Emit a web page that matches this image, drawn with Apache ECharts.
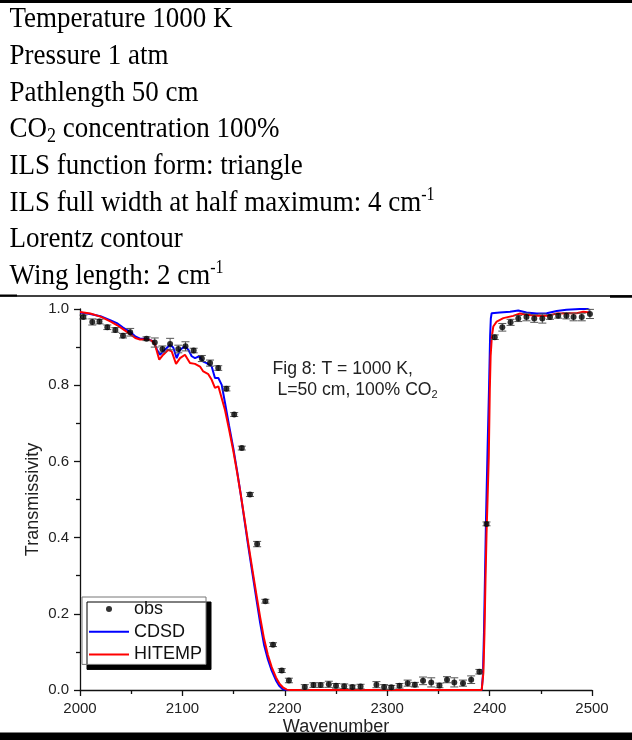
<!DOCTYPE html>
<html>
<head>
<meta charset="utf-8">
<script src="https://cdn.jsdelivr.net/npm/echarts@6/dist/echarts.min.js"></script>
<style>
  html, body { margin: 0; padding: 0; background: #fff; }
  #chart { width: 632px; height: 740px; }
</style>
</head>
<body>
<div id="chart"></div>
<script>
// Measured transmissivity (points with error bars)
const obsWavenumber = [2003.3, 2012, 2019, 2026.7, 2034.5, 2042, 2049, 2065, 2073, 2080.5,
  2088, 2096, 2103, 2111, 2119, 2127, 2135, 2143, 2150.6, 2158,
  2166, 2173, 2181, 2188.5, 2197, 2204, 2219.5, 2228, 2235, 2243,
  2250, 2258, 2266, 2274, 2289.5, 2297, 2304, 2312, 2320, 2327,
  2335, 2343, 2351, 2358.4, 2365.5, 2374, 2382, 2390, 2397, 2405,
  2412.4, 2420.5, 2428, 2436, 2443.6, 2451.5, 2459, 2467, 2475, 2482,
  2490, 2498];
const obsValue = [0.979, 0.966, 0.967, 0.952, 0.945, 0.930, 0.939, 0.922, 0.912, 0.895,
  0.908, 0.895, 0.902, 0.891, 0.870, 0.858, 0.845, 0.791, 0.723, 0.635,
  0.513, 0.383, 0.233, 0.119, 0.051, 0.025, 0.008, 0.013, 0.013, 0.015,
  0.011, 0.010, 0.008, 0.009, 0.014, 0.008, 0.007, 0.011, 0.018, 0.014,
  0.024, 0.020, 0.012, 0.027, 0.020, 0.018, 0.027, 0.048, 0.436, 0.926,
  0.952, 0.965, 0.975, 0.979, 0.975, 0.975, 0.979, 0.982, 0.982, 0.979,
  0.979, 0.987];
const obsError = [0.005, 0.008, 0.006, 0.006, 0.006, 0.006, 0.010, 0.005, 0.012, 0.008,
  0.015, 0.010, 0.012, 0.006, 0.008, 0.008, 0.006, 0.006, 0.005, 0.005,
  0.005, 0.007, 0.005, 0.005, 0.005, 0.006, 0.006, 0.006, 0.006, 0.008,
  0.006, 0.006, 0.005, 0.006, 0.008, 0.006, 0.005, 0.006, 0.008, 0.006,
  0.010, 0.012, 0.006, 0.008, 0.012, 0.008, 0.010, 0.006, 0.005, 0.006,
  0.010, 0.008, 0.008, 0.010, 0.010, 0.012, 0.006, 0.006, 0.008, 0.010,
  0.010, 0.012];

// CDSD line-by-line calculation
const cdsdWavenumber = [2000, 2010, 2020, 2030, 2036, 2042, 2049, 2054, 2058.6, 2065,
  2071.6, 2075.2, 2078.1, 2083, 2087.9, 2091.1, 2094.4, 2097.7, 2102.5, 2105.8,
  2109.1, 2112.3, 2116.5, 2120.4, 2123.7, 2128.6, 2131.8, 2135.1, 2138.4, 2141.6,
  2145.5, 2149.7, 2153.5, 2157, 2160.5, 2164, 2168, 2172.6, 2176, 2179.7,
  2183.5, 2187.2, 2191.4, 2194.5, 2198, 2202, 2300, 2392.3, 2393.5, 2394.5,
  2395.5, 2396.5, 2398, 2399.5, 2400.5, 2401.2, 2402, 2410, 2420, 2428,
  2436, 2446, 2455.8, 2465.5, 2475, 2488, 2496, 2498];
const cdsdValue = [0.991, 0.987, 0.981, 0.970, 0.963, 0.951, 0.940, 0.928, 0.922, 0.922,
  0.915, 0.893, 0.880, 0.893, 0.906, 0.899, 0.871, 0.893, 0.902, 0.893,
  0.876, 0.871, 0.876, 0.862, 0.858, 0.849, 0.819, 0.819, 0.801, 0.754,
  0.695, 0.635, 0.573, 0.513, 0.448, 0.383, 0.313, 0.233, 0.175, 0.119,
  0.080, 0.051, 0.025, 0.011, 0.002, 0, 0, 0, 0.04, 0.15,
  0.30, 0.45, 0.63, 0.80, 0.93, 0.975, 0.989, 0.991, 0.993, 0.996,
  0.991, 0.988, 0.989, 0.995, 0.998, 1.0, 1.0, 0.997];

// HITEMP line-by-line calculation
const hitempWavenumber = [2000, 2010, 2020, 2030, 2036, 2042, 2049, 2054, 2058.6, 2065,
  2070, 2073.2, 2077.4, 2081.3, 2086.2, 2089.5, 2093.8, 2097.7, 2102.5, 2107.4,
  2112.3, 2117.2, 2120.4, 2125.3, 2128.6, 2131.8, 2135.1, 2138.4, 2141.6, 2145.5,
  2149.7, 2153.5, 2157, 2160.5, 2164, 2168, 2172.6, 2176, 2179.7, 2183.5,
  2187.2, 2191.4, 2195, 2198.5, 2202, 2205, 2300, 2392.3, 2393.9, 2395,
  2396, 2397, 2398, 2399.2, 2400.2, 2401, 2402.2, 2403.6, 2406.9, 2413.4,
  2423, 2429.7, 2436.2, 2446, 2455.8, 2465.5, 2475.3, 2485, 2491.5, 2498];
const hitempValue = [0.992, 0.988, 0.980, 0.967, 0.958, 0.947, 0.934, 0.924, 0.920, 0.920,
  0.917, 0.907, 0.867, 0.880, 0.893, 0.889, 0.856, 0.871, 0.880, 0.858,
  0.856, 0.849, 0.836, 0.829, 0.814, 0.793, 0.797, 0.766, 0.735, 0.685,
  0.628, 0.570, 0.513, 0.452, 0.390, 0.322, 0.245, 0.190, 0.135, 0.092,
  0.060, 0.033, 0.016, 0.006, 0.001, 0, 0, 0, 0.045, 0.15,
  0.29, 0.41, 0.50, 0.613, 0.788, 0.876, 0.928, 0.954, 0.967, 0.976,
  0.982, 0.988, 0.985, 0.982, 0.982, 0.988, 0.989, 0.989, 0.993, 0.991];

// Calculation parameters listed above the plot
const paramLines = [
  '{n|Temperature 1000 K}',
  '{n|Pressure 1 atm}',
  '{n|Pathlength 50 cm}',
  '{n|CO}{sub|2}{n| concentration 100%}',
  '{n|ILS function form: triangle}',
  '{n|ILS full width at half maximum: 4 cm}{sup|-1}',
  '{n|Lorentz contour}',
  '{n|Wing length: 2 cm}{sup|-1}'
];
const figNote = ['{n|Fig 8: T = 1000 K,}', '{n|L=50 cm, 100% CO}{sub|2}'];
const legendNames = ['obs', 'CDSD', 'HITEMP'];

const sans = 'Liberation Sans, Arial, sans-serif';
const serif = 'Liberation Serif, Times New Roman, serif';

const zip = (xs, ys) => xs.map((x, i) => [x, ys[i]]);

const graphics = [];
// page rules
graphics.push({ type: 'rect', shape: { x: 0, y: 0, width: 632, height: 3 }, style: { fill: '#000' } });
graphics.push({ type: 'rect', shape: { x: 0, y: 732.5, width: 632, height: 8 }, style: { fill: '#000' } });
graphics.push({ type: 'line', shape: { x1: 0, y1: 296, x2: 632, y2: 296 }, style: { stroke: '#000', lineWidth: 1.5 } });
graphics.push({ type: 'line', shape: { x1: 0, y1: 295.5, x2: 17, y2: 295.5 }, style: { stroke: '#000', lineWidth: 2 } });
graphics.push({ type: 'line', shape: { x1: 610, y1: 296.5, x2: 632, y2: 296.5 }, style: { stroke: '#000', lineWidth: 2.5 } });

const paramY = [19.3, 56, 93, 129.5, 166, 203, 239.5, 276];
paramLines.forEach((t, i) => {
  graphics.push({
    type: 'text', x: 9.5, y: paramY[i], scaleY: 1.12,
    style: {
      text: t, x: 0, y: 0,
      textAlign: 'left', align: 'left', textVerticalAlign: 'middle', verticalAlign: 'middle',
      fill: '#000',
      rich: {
        n: { fontFamily: serif, fontSize: 27, lineHeight: 30, fill: '#000', color: '#000' },
        sub: { fontFamily: serif, fontSize: 18, lineHeight: 16, verticalAlign: 'bottom', fill: '#000', color: '#000' },
        sup: { fontFamily: serif, fontSize: 16, lineHeight: 18, verticalAlign: 'top', fill: '#000', color: '#000' }
      }
    }
  });
});

const noteX = [272.5, 277.5];
const noteY = [369, 390];
figNote.forEach((t, i) => {
  graphics.push({
    type: 'text', x: noteX[i], y: noteY[i], z: 10,
    style: {
      text: t, x: 0, y: 0,
      textAlign: 'left', align: 'left', textVerticalAlign: 'middle', verticalAlign: 'middle',
      fill: '#222',
      rich: {
        n: { fontFamily: sans, fontSize: 17.6, lineHeight: 20, fill: '#222', color: '#222' },
        sub: { fontFamily: sans, fontSize: 11, lineHeight: 4, verticalAlign: 'bottom', fill: '#222', color: '#222' }
      }
    }
  });
});

const chart = echarts.init(document.getElementById('chart'), null, { renderer: 'canvas' });
chart.setOption({
  animation: false,
  backgroundColor: '#fff',
  grid: { left: 80, right: 40, top: 309, bottom: 50, containLabel: false, outerBoundsMode: 'none' },
  xAxis: {
    type: 'value', min: 2000, max: 2500, interval: 100,
    name: 'Wavenumber', nameLocation: 'middle', nameGap: 28, nameMoveOverlap: false,
    nameTextStyle: { fontFamily: sans, fontSize: 18, color: '#222' },
    axisLine: { show: true, onZero: false, lineStyle: { color: '#111', width: 1.3 } },
    axisTick: { show: true, inside: false, length: 6, lineStyle: { color: '#111', width: 1.3 } },
    minorTick: { show: true, splitNumber: 2, length: 4, lineStyle: { color: '#111', width: 1.3 } },
    axisLabel: { fontFamily: sans, fontSize: 15, color: '#222', margin: 11, formatter: v => String(v) },
    splitLine: { show: false }
  },
  yAxis: {
    type: 'value', min: 0, max: 1, interval: 0.2,
    name: 'Transmissivity', nameLocation: 'middle', nameGap: 38, nameMoveOverlap: false,
    nameTextStyle: { fontFamily: sans, fontSize: 18, color: '#222' },
    axisLine: { show: true, onZero: false, lineStyle: { color: '#111', width: 1.3 } },
    axisTick: { show: true, inside: false, length: 6, lineStyle: { color: '#111', width: 1.3 } },
    minorTick: { show: true, splitNumber: 2, length: 4, lineStyle: { color: '#111', width: 1.3 } },
    axisLabel: { fontFamily: sans, fontSize: 15, color: '#222', margin: 11, formatter: v => v.toFixed(1) },
    splitLine: { show: false }
  },
  legend: {
    data: [
      { name: legendNames[0] },
      { name: legendNames[1], itemStyle: { opacity: 0 } },
      { name: legendNames[2], itemStyle: { opacity: 0 } }
    ],
    orient: 'vertical', left: 82, top: 597,
    itemWidth: 40, itemHeight: 6, itemGap: 4.7,
    padding: [3, 4, 1, 6],
    backgroundColor: '#fff', borderColor: '#777', borderWidth: 1, borderRadius: 0,
    shadowColor: '#000', shadowBlur: 0, shadowOffsetX: 5, shadowOffsetY: 5,
    textStyle: { fontFamily: sans, fontSize: 18, color: '#111', lineHeight: 17.3 }
  },
  series: [
    {
      name: 'obs', type: 'scatter',
      data: zip(obsWavenumber, obsValue),
      symbol: 'circle', symbolSize: 6,
      itemStyle: { color: '#000' }, z: 6
    },
    {
      name: 'CDSD', type: 'line', data: zip(cdsdWavenumber, cdsdValue),
      symbol: 'none', showSymbol: false,
      lineStyle: { color: '#0000ff', width: 2 }, itemStyle: { color: '#0000ff' }, z: 3
    },
    {
      name: 'HITEMP', type: 'line', data: zip(hitempWavenumber, hitempValue),
      symbol: 'none', showSymbol: false,
      lineStyle: { color: '#ff0000', width: 2 }, itemStyle: { color: '#ff0000' }, z: 4
    },
    {
      name: 'obs error', type: 'custom', z: 5,
      data: obsWavenumber.map((x, i) => [x, obsValue[i] - obsError[i], obsValue[i] + obsError[i]]),
      renderItem: (params, api) => {
        const lo = api.coord([api.value(0), api.value(1)]);
        const hi = api.coord([api.value(0), api.value(2)]);
        const w = 4;
        const st = { stroke: '#555', lineWidth: 1 };
        return {
          type: 'group',
          children: [
            { type: 'line', shape: { x1: lo[0], y1: lo[1], x2: hi[0], y2: hi[1] }, style: st },
            { type: 'line', shape: { x1: lo[0] - w, y1: lo[1], x2: lo[0] + w, y2: lo[1] }, style: st },
            { type: 'line', shape: { x1: hi[0] - w, y1: hi[1], x2: hi[0] + w, y2: hi[1] }, style: st }
          ]
        };
      }
    }
  ],
  graphic: graphics
});
</script>
</body>
</html>
